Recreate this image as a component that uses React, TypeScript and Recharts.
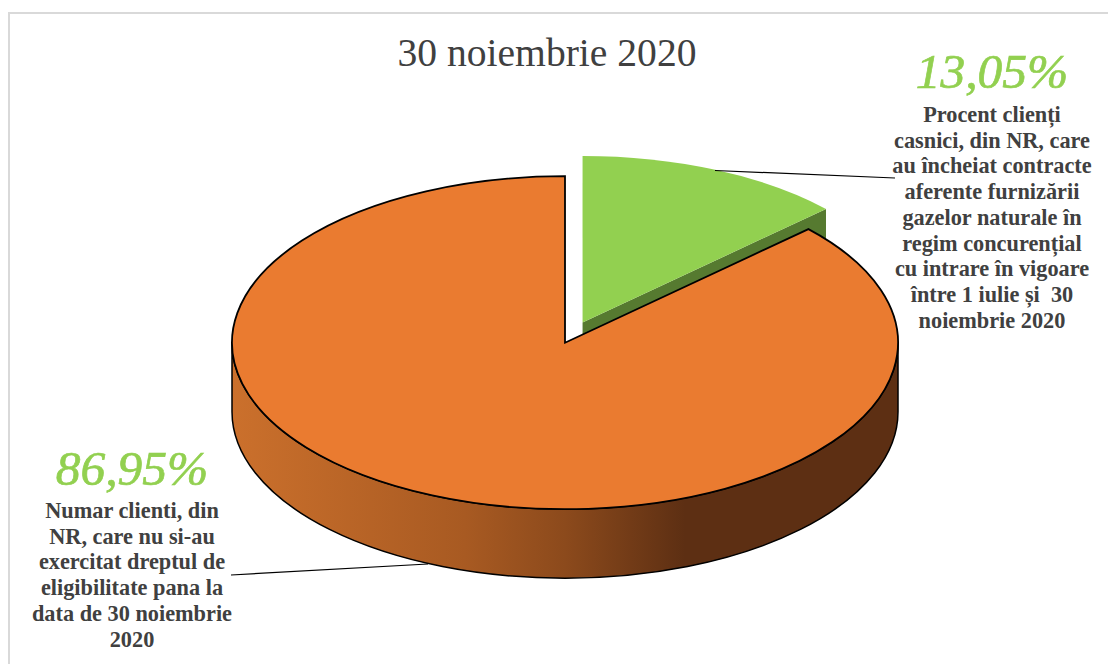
import React from "react";
import { PieChart, Pie } from "recharts";

const titleText = "30 noiembrie 2020";
const categories = ["Clienți cu contracte în regim concurențial", "Clienți care nu și-au exercitat dreptul"];
const shares = [13.05, 86.95];
const shareLabels = ["13,05%", "86,95%"];
const sliceColors = ["#92D050", "#EA7B30"];
const wallColors = ["#567A30", "url(#orangeWall)"];
const explosions = [44, 0];
const greenDescription = [
  "Procent clienți",
  "casnici, din NR, care",
  "au încheiat contracte",
  "aferente furnizării",
  "gazelor naturale în",
  "regim concurențial",
  "cu intrare în vigoare",
  "între 1 iulie și  30",
  "noiembrie 2020",
];
const orangeDescription = [
  "Numar clienti, din",
  "NR, care nu si-au",
  "exercitat dreptul de",
  "eligibilitate pana la",
  "data de 30 noiembrie",
  "2020",
];
const descriptions = [greenDescription, orangeDescription];
const labelLayouts = [
  { x: 992, bigY: 88, firstY: 122, line: [715, 170.5, 895, 178] },
  { x: 132, bigY: 485, firstY: 518, line: [428, 564, 231, 575] },
];

const SQUASH = 0.5;
const DEPTH = 69;
const FONT = "'Liberation Serif', serif";
const TEXT = "#404040";
const rad = (d: number) => (d * Math.PI) / 180;

const tableData = categories.map((name, i) => ({ name, value: shares[i], fill: sliceColors[i], wall: wallColors[i], explode: explosions[i] }));

function Slice3D(props: any) {
  const { cx, cy, outerRadius: r, startAngle, endAngle, midAngle, fill, payload } = props;
  const wall = payload?.wall ?? props.wall;
  const explode = payload?.explode ?? props.explode ?? 0;
  const ox = cx + explode * Math.cos(rad(midAngle));
  const oy = cy - explode * SQUASH * Math.sin(rad(midAngle));
  const ry = r * SQUASH;
  const pt = (a: number) => [ox + r * Math.cos(rad(a)), oy - ry * Math.sin(rad(a))];
  const [sx, sy] = pt(startAngle);
  const [ex, ey] = pt(endAngle);
  const large = Math.abs(startAngle - endAngle) > 180 ? 1 : 0;
  const top = `M${ox},${oy} L${sx},${sy} A${r},${ry} 0 ${large} 1 ${ex},${ey} Z`;
  const exploded = explode > 0;
  const stroke = exploded ? "none" : "#000";
  return (
    <g>
      {exploded ? (
        <path d={`M${ox},${oy} L${ex},${ey} L${ex},${ey + DEPTH} L${ox},${oy + DEPTH} Z`} fill={wall} />
      ) : (
        <path
          d={`M${ox + r},${oy} A${r},${ry} 0 0 1 ${ox - r},${oy} L${ox - r},${oy + DEPTH} A${r},${ry} 0 0 0 ${ox + r},${oy + DEPTH} Z`}
          fill={wall}
          stroke="#000"
          strokeWidth={1.5}
        />
      )}
      <path d={top} fill={fill} stroke={stroke} strokeWidth={1.8} strokeLinejoin="miter" />
    </g>
  );
}

function SliceLabel(props: any) {
  const { index } = props;
  const l = labelLayouts[index];
  return (
    <g>
      <line x1={l.line[0]} y1={l.line[1]} x2={l.line[2]} y2={l.line[3]} stroke="#000" strokeWidth={1.2} />
      <text x={l.x} y={l.bigY} textAnchor="middle" fontFamily={FONT} fontStyle="italic" fontSize={49.5} fill="#92D050" stroke="#92D050" strokeWidth={0.7}>
        {shareLabels[index]}
      </text>
      {descriptions[index].map((t, i) => (
        <text key={i} x={l.x} y={l.firstY + i * 25.7} textAnchor="middle" fontFamily={FONT} fontWeight="bold" fontSize={22.3} fill={TEXT} xmlSpace="preserve">
          {t}
        </text>
      ))}
    </g>
  );
}

export default function App() {
  return (
    <div style={{ position: "absolute", left: 0, top: 0, width: 1108, height: 664, background: "#fff", overflow: "hidden" }}>
      <div style={{ position: "absolute", left: 8, top: 12, width: 1100, height: 652, boxSizing: "border-box", borderTop: "2px solid #D9D9D9", borderLeft: "2px solid #D9D9D9" }} />
      <div style={{ position: "absolute", left: 0, top: 0 }}>
        <PieChart width={1108} height={664} margin={{ top: 0, right: 0, bottom: 0, left: 0 }}>
          <defs>
            <linearGradient id="orangeWall" x1="0" y1="0" x2="1" y2="0">
              <stop offset="0%" stopColor="#CB702C" />
              <stop offset="35%" stopColor="#A85A22" />
              <stop offset="50%" stopColor="#8C4A1C" />
              <stop offset="68%" stopColor="#5D2F13" />
              <stop offset="100%" stopColor="#5D2F13" />
            </linearGradient>
          </defs>
          <text x={547} y={66} textAnchor="middle" fontFamily={FONT} fontSize={39.6} fill={TEXT}>
            {titleText}
          </text>
          <Pie
            data={tableData}
            dataKey="value"
            nameKey="name"
            cx={565}
            cy={342.7}
            innerRadius={0}
            outerRadius={333}
            startAngle={90}
            endAngle={-270}
            paddingAngle={0}
            stroke="none"
            shape={Slice3D}
            label={SliceLabel}
            labelLine={false}
            isAnimationActive={false}
          />
        </PieChart>
      </div>
    </div>
  );
}
